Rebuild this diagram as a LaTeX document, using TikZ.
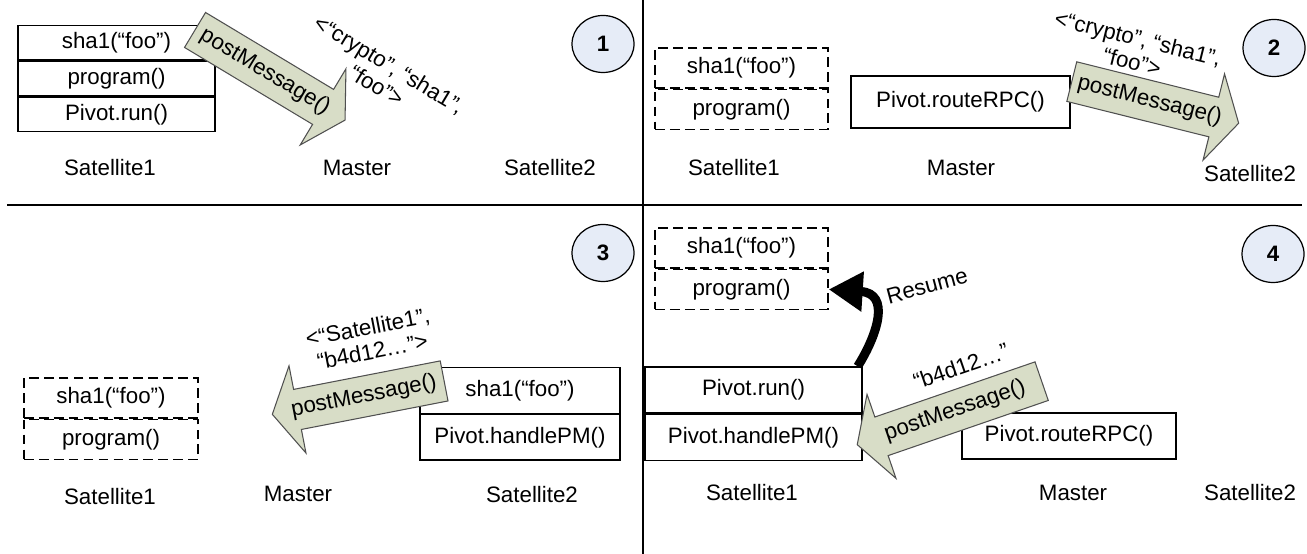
\documentclass[tikz,border=0pt]{standalone}
\usepackage{fontspec}
\setmainfont{Liberation Sans}
\usepackage{tikz}
\usetikzlibrary{positioning, shapes.geometric, shapes.arrows, arrows.meta}
\definecolor{pmFill}{RGB}{216,221,199}
\definecolor{pmEdge}{RGB}{80,80,80}
\definecolor{stFill}{RGB}{230,236,247}
\tikzset{
    base/.style={
        font=\fontsize{12.7}{14}\selectfont,
        align=center
    },
    cell/.style={
        base,
        rectangle,
        draw=black,
        line width=0.8pt,
        inner sep=0pt
    },
    ghost/.style={
        cell,
        dash pattern=on 5.5pt off 3pt
    },
    stepno/.style={
        base,
        ellipse,
        draw=black,
        line width=0.7pt,
        fill=stFill,
        minimum width=12.4mm,
        minimum height=11.4mm,
        inner sep=0pt,
        font=\fontsize{12.7}{14}\selectfont\bfseries
    },
    msg/.style={
        base,
        single arrow,
        draw=pmEdge,
        line width=0.6pt,
        fill=pmFill,
        single arrow tip angle=120,
        single arrow head extend=4.8mm,
        inner xsep=0pt,
        inner ysep=1.9mm,
        text height=3.2mm,
        text depth=0.95mm
    },
    payload/.style={
        base
    },
    resume/.style={
        -{Triangle[length=6.8mm, width=7.6mm]},
        line width=1.8mm
    },
    divider/.style={
        line width=1pt
    }
}
\begin{document}
\begin{tikzpicture}[x=0.2mm, y=-0.2mm]
    \useasboundingbox (0,0) rectangle (1307,554);

    % Quadrant dividers
    \draw[divider] (7,205) -- (1302,205);
    \draw[divider] (643,0) -- (643,554);

    % Step 1
    \node[cell, minimum width=39.4mm, minimum height=6.9mm] (a1sha) at (116.5,42.5) {sha1(“foo”)};
    \node[cell, minimum width=39.4mm, minimum height=6.9mm, below=0pt of a1sha] (a1prog) {program()};
    \node[cell, minimum width=39.4mm, minimum height=6.9mm, below=0pt of a1prog] (a1run) {Pivot.run()};
    \node[msg, rotate=-31, minimum height=35mm] (a1pm) at (265,72) {postMessage()};
    \node[payload, rotate=-31] (a1args) at (383,75) {<“crypto”, “sha1”,\\“foo”>};
    \node[base] (a1sat1) at (110,168) {Satellite1};
    \node[base] (a1mast) at (357,168) {Master};
    \node[base] (a1sat2) at (550,168) {Satellite2};
    \node[stepno] (n1) at (603,44) {1};

    % Step 2
    \node[ghost, minimum width=34.6mm, minimum height=8mm] (b2sha) at (741.5,68) {sha1(“foo”)};
    \node[ghost, minimum width=34.6mm, minimum height=8mm, below=0pt of b2sha] (b2prog) {program()};
    \node[cell, minimum width=43.8mm, minimum height=10.4mm] (b2route) at (960.5,102) {Pivot.routeRPC()};
    \node[msg, rotate=-14, minimum height=34.4mm] (b2pm) at (1149.5,101) {postMessage()};
    \node[payload, rotate=-14] (b2args) at (1135,50) {<“crypto”, “sha1”,\\“foo”>};
    \node[base] (b2sat1) at (734,168) {Satellite1};
    \node[base] (b2mast) at (961,168) {Master};
    \node[base] (b2sat2) at (1250,174) {Satellite2};
    \node[stepno] (n2) at (1274,48) {2};

    % Step 3
    \node[ghost, minimum width=34.8mm, minimum height=8mm] (c3sha) at (111,398) {sha1(“foo”)};
    \node[ghost, minimum width=34.8mm, minimum height=8mm, below=0pt of c3sha] (c3prog) {program()};
    \node[cell, minimum width=40mm, minimum height=9.1mm] (c3sha2) at (520,390.5) {sha1(“foo”)};
    \node[cell, minimum width=40mm, minimum height=9.1mm, below=0pt of c3sha2] (c3handle) {Pivot.handlePM()};
    \node[msg, rotate=11, shape border rotate=180, minimum height=35mm] (c3pm) at (364,396.5) {postMessage()};
    \node[payload, rotate=11] (c3args) at (370,339) {<“Satellite1",\\“b4d12…”>};
    \node[base] (c3sat1) at (110,497) {Satellite1};
    \node[base] (c3mast) at (298,494) {Master};
    \node[base] (c3sat2) at (532,495) {Satellite2};
    \node[stepno] (n3) at (603,253) {3};

    % Step 4
    \node[ghost, minimum width=34.6mm, minimum height=8mm] (d4sha) at (741.5,248) {sha1(“foo”)};
    \node[ghost, minimum width=34.6mm, minimum height=8mm, below=0pt of d4sha] (d4prog) {program()};
    \node[cell, minimum width=43.4mm, minimum height=9.2mm] (d4run) at (753.5,390) {Pivot.run()};
    \node[cell, minimum width=43.4mm, minimum height=9.2mm, below=0pt of d4run] (d4handle) {Pivot.handlePM()};
    \node[cell, minimum width=42.8mm, minimum height=9.2mm] (d4route) at (1069,436) {Pivot.routeRPC()};
    \node[msg, rotate=19, shape border rotate=180, minimum height=39mm] (d4pm) at (955,411) {postMessage()};
    \node[payload, rotate=19] (d4args) at (961,366) {“b4d12…”};
    \draw[resume] ([xshift=-1mm]d4run.north east) .. controls +(20,-32) and +(62,4) .. (d4prog.east);
    \node[payload, rotate=15] (d4lbl) at (927,286) {Resume};
    \node[base] (d4sat1) at (752,493) {Satellite1};
    \node[base] (d4mast) at (1073,493) {Master};
    \node[base] (d4sat2) at (1250,493) {Satellite2};
    \node[stepno] (n4) at (1273,254) {4};

\end{tikzpicture}
\end{document}
